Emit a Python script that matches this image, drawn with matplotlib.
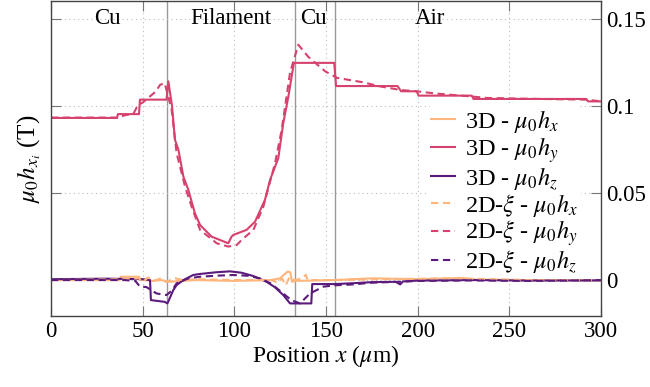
import matplotlib
matplotlib.use("Agg")
import matplotlib.pyplot as plt

plt.rcParams['font.family'] = ['Liberation Serif', 'DejaVu Serif']
plt.rcParams['mathtext.fontset'] = 'stix'

# Field profiles along the line (position in um, field in T)
hy_3d_x = [0, 36, 36.5, 48, 48.5, 63, 64, 66, 67.6, 69.5, 72.2, 74.9, 78.5, 81.3, 87.6, 96.7, 98.5,
           99.5, 106.7, 111.3, 116.7, 119.5, 124, 126.7, 129.5, 132.5, 154.5, 155.5, 189, 191,
           199.5, 200.5, 229.5, 230.5, 292, 293, 300]
hy_3d_y = [0.093, 0.093, 0.0952, 0.0952, 0.1035, 0.1035, 0.114, 0.100, 0.0805, 0.0748, 0.0594,
           0.0518, 0.0383, 0.0316, 0.0249, 0.0211, 0.0249, 0.0259, 0.0288, 0.0335, 0.046, 0.0575,
           0.070, 0.090, 0.1054, 0.1246, 0.1246, 0.1113, 0.1113, 0.1083, 0.1083, 0.1058, 0.1058,
           0.1039, 0.1039, 0.1025, 0.1025]

hy_2d_x = [0, 37, 40, 45, 47.5, 50, 54, 57, 59.5, 62, 65.8, 68.5, 73.1, 76.7, 81.3, 90.4, 96.7,
           101.3, 104, 110.4, 115.8, 122.2, 125.8, 130.4, 134.9, 140.4, 149.5, 156, 170, 180, 191,
           199.5, 210, 228.5, 237.6, 260, 292, 300]
hy_2d_y = [0.0932, 0.0932, 0.0945, 0.0955, 0.1006, 0.1018, 0.1054, 0.108, 0.112, 0.113, 0.0978,
           0.0729, 0.0537, 0.0421, 0.0288, 0.0211, 0.0192, 0.0201, 0.023, 0.0288, 0.042, 0.067,
           0.086, 0.119, 0.135, 0.128, 0.1198, 0.116, 0.1135, 0.111, 0.109, 0.1083, 0.107, 0.1054,
           0.1045, 0.104, 0.1035, 0.1025]

hz_3d_x = [0, 30, 50, 54, 54.5, 62, 63.5, 66.7, 68.5, 72.2, 77.6, 81.3, 90.4, 97.6, 104, 110.4,
           117.6, 122, 126.7, 130.4, 142, 142.5, 155, 165, 175, 188, 190.5, 192, 200, 230, 260, 300]
hz_3d_y = [0.0005, 0.0008, 0.0005, 0.0, -0.0115, -0.0125, -0.0134, -0.0058, -0.0029, 0.0, 0.0029,
           0.0035, 0.0045, 0.005, 0.0042, 0.0023, -0.001, -0.004, -0.0086, -0.0134, -0.0134,
           -0.0023, -0.0023, -0.0018, -0.0012, -0.001, -0.0025, -0.0008, -0.0003, 0.0, -0.0003,
           -0.0002]

hz_2d_x = [0, 40, 46, 48.5, 52, 57.6, 63, 66, 68.5, 75, 81.3, 90, 99.5, 107, 114, 120, 126.7,
           131, 135.8, 141.3, 148.5, 155, 165, 175, 190, 200, 230, 260, 300]
hz_2d_y = [0.0, 0.0, -0.0005, -0.0038, -0.004, -0.0077, -0.0086, -0.006, -0.0019, 0.001, 0.0019,
           0.0025, 0.0029, 0.0025, 0.001, -0.002, -0.0077, -0.0115, -0.0134, -0.0077, -0.0038,
           -0.003, -0.0025, -0.0015, -0.001, -0.0005, -0.0002, -0.0005, 0.0]

hx_3d_x = [0, 37.5, 38, 48, 48.5, 55, 60, 65, 70, 80, 100, 120, 125, 127, 129, 130.5, 131.5, 133,
           155, 175, 200, 225, 230, 260, 300]
hx_3d_y = [0.0, 0.0, 0.0019, 0.0019, 0.0003, -0.0005, 0.0, -0.001, -0.0005, 0.0, -0.0005, 0.0,
           0.001, 0.003, 0.0048, 0.0045, -0.001, -0.0005, 0.0, 0.001, 0.0005, 0.0012, 0.0003, 0.0,
           -0.0003]

hx_2d_x = [0, 40, 48, 50, 53, 56, 60, 63, 67, 72, 80, 100, 120, 124, 126, 128, 130, 133, 137,
           139, 140, 155, 180, 220, 260, 300]
hx_2d_y = [0.0, 0.0005, 0.001, -0.001, 0.0015, -0.0005, 0.001, -0.0012, 0.0012, 0.0, 0.0005, 0.0,
           0.0, -0.0015, 0.001, -0.003, 0.0015, 0.0, 0.001, 0.003, 0.0, 0.0, 0.0005, 0.001, 0.0, 0.0]

# Material boundaries and region names
boundaries = [63, 133, 155]
region_names = ['Cu', 'Filament', 'Cu', 'Air']
region_centers = [31, 98, 143, 207]

c_x = '#feb67c'
c_y = '#d6426d'
c_z = '#5b1b7c'
dash = (0, (3.5, 2.2))

fig = plt.figure(figsize=(6.5, 3.87), dpi=100)
ax = fig.add_axes([0.0785, 0.184, 0.846, 0.813])

ax.grid(True, linestyle=(0, (1, 3)), color='#bbbbbb', linewidth=0.8)
for b in boundaries:
    ax.axvline(b, color='#999999', linewidth=1.0, zorder=1)

lw = 1.5
ax.plot(hx_3d_x, hx_3d_y, color=c_x, lw=lw, label=r'3D - $\mu_0 h_x$')
ax.plot(hy_3d_x, hy_3d_y, color=c_y, lw=lw, label=r'3D - $\mu_0 h_y$')
ax.plot(hz_3d_x, hz_3d_y, color=c_z, lw=lw, label=r'3D - $\mu_0 h_z$')
ax.plot(hx_2d_x, hx_2d_y, color=c_x, lw=lw, ls=dash, label=r'2D-$\xi$ - $\mu_0 h_x$')
ax.plot(hy_2d_x, hy_2d_y, color=c_y, lw=lw, ls=dash, label=r'2D-$\xi$ - $\mu_0 h_y$')
ax.plot(hz_2d_x, hz_2d_y, color=c_z, lw=lw, ls=dash, label=r'2D-$\xi$ - $\mu_0 h_z$')

for name, xc in zip(region_names, region_centers):
    ax.text(xc, 0.15, name, ha='center', va='center', fontsize=16.5)

ax.set_xlim(0, 300)
ax.set_ylim(-0.0205, 0.16)
ax.set_xticks([0, 50, 100, 150, 200, 250, 300])
ax.set_yticks([0, 0.05, 0.1, 0.15])
ax.set_yticklabels(['0', '0.05', '0.1', '0.15'])
ax.tick_params(axis='both', direction='in', length=7, width=0.8, color='#777777',
               labelsize=16.5, top=True, right=True, labelleft=False, labelright=True)
for s in ax.spines.values():
    s.set_color('#444444')
    s.set_linewidth(1.0)

ax.set_xlabel(r'Position $x$ ($\mu$m)', fontsize=17, labelpad=1)
ax.set_ylabel(r'$\mu_0 h_{x_i}$ (T)', fontsize=18, labelpad=6)

# legend box sits above the grid but under the curves
leg = ax.legend(loc='center right', bbox_to_anchor=(0.985, 0.395), fontsize=17.5,
                handlelength=1.0, handletextpad=0.4, labelspacing=0.0,
                frameon=True, framealpha=1.0, edgecolor='none', borderpad=0.1)
leg.set_zorder(1.8)

fig.savefig('out.png', dpi=100)
